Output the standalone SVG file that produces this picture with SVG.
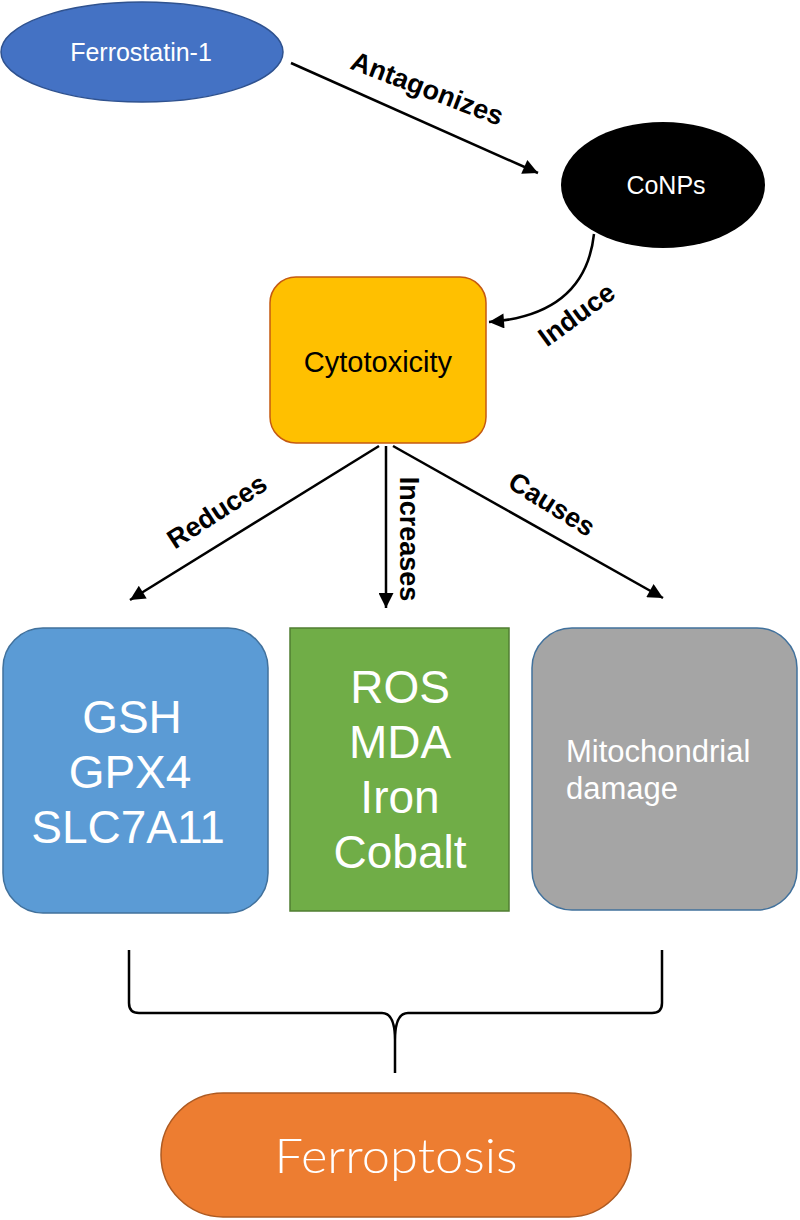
<svg xmlns="http://www.w3.org/2000/svg" width="800" height="1220" viewBox="0 0 800 1220">
<defs>
<marker id="arr" viewBox="0 0 10 10" refX="10" refY="5" markerWidth="7" markerHeight="6" orient="auto" markerUnits="strokeWidth">
<path d="M0,0 L10,5 L0,10 z" fill="#000"/>
</marker>
<style>
.lbl{font-family:"Liberation Sans",Arial,sans-serif;font-weight:bold;font-size:27px;fill:#000;text-anchor:middle}
.conn{stroke:#000;stroke-width:2.5;fill:none}
.big{font-family:"Liberation Sans",Arial,sans-serif;font-size:46px;fill:#fff;text-anchor:middle}
.sm{font-family:"Liberation Sans",Arial,sans-serif;fill:#fff;text-anchor:middle}
</style>
</defs>
<rect width="800" height="1220" fill="#fff"/>

<g id="connectors">
<line class="conn" x1="291" y1="63" x2="538" y2="173" marker-end="url(#arr)"/>
<path class="conn" d="M594,234 Q585,315 489,322" marker-end="url(#arr)"/>
<line class="conn" x1="379" y1="446" x2="130" y2="600" marker-end="url(#arr)"/>
<line class="conn" x1="386" y1="446" x2="386" y2="608" marker-end="url(#arr)"/>
<line class="conn" x1="393" y1="446" x2="663" y2="598" marker-end="url(#arr)"/>
<path d="M129,950 L129,1003 Q129,1013 139,1013 L382,1013 Q395,1013 395,1040 Q395,1013 408,1013 L652,1013 Q662,1013 662,1003 L662,950 M395,1040 L395,1073" fill="none" stroke="#000" stroke-width="2.5"/>
<text class="lbl" transform="translate(424,97) rotate(21)">Antagonizes</text>
<text class="lbl" transform="translate(582,322) rotate(-36)">Induce</text>
<text class="lbl" transform="translate(222,519) rotate(-33)">Reduces</text>
<text class="lbl" transform="translate(400,539) rotate(90)">Increases</text>
<text class="lbl" transform="translate(547,512) rotate(32)">Causes</text>
</g>

<g id="ferrostatin">
<ellipse cx="142" cy="52" rx="141" ry="50" fill="#4472C4" stroke="#2F528F" stroke-width="1.5"/>
<text class="sm" x="141" y="61" font-size="25">Ferrostatin-1</text>
</g>

<g id="conps">
<ellipse cx="663" cy="185" rx="102" ry="63" fill="#000"/>
<text class="sm" x="666" y="194" font-size="25">CoNPs</text>
</g>

<g id="cytotoxicity">
<rect x="270" y="277" width="216" height="166" rx="26" fill="#FFC000" stroke="#C55A11" stroke-width="1.5"/>
<text x="378" y="372" font-family="Liberation Sans,Arial,sans-serif" font-size="29" fill="#000" text-anchor="middle">Cytotoxicity</text>
</g>

<g id="gsh">
<rect x="3" y="628" width="265" height="285" rx="40" fill="#5B9BD5" stroke="#41719C" stroke-width="1.5"/>
<text class="big" x="132" y="733">GSH</text>
<text class="big" x="130" y="788">GPX4</text>
<text class="big" x="128" y="843">SLC7A11</text>
</g>

<g id="ros">
<rect x="290" y="628" width="219" height="283" fill="#70AD47" stroke="#507E32" stroke-width="1.5"/>
<text class="big" x="400" y="703">ROS</text>
<text class="big" x="400" y="758">MDA</text>
<text class="big" x="400" y="813">Iron</text>
<text class="big" x="400" y="868">Cobalt</text>
</g>

<g id="mito">
<rect x="532" y="628" width="265" height="282" rx="40" fill="#A5A5A5" stroke="#41719C" stroke-width="1.5"/>
<text x="566" y="762" font-family="Liberation Sans,Arial,sans-serif" font-size="31" fill="#fff">Mitochondrial</text>
<text x="566" y="799" font-family="Liberation Sans,Arial,sans-serif" font-size="31" fill="#fff">damage</text>
</g>

<g id="ferroptosis">
<rect x="161" y="1093" width="470" height="124" rx="62" fill="#ED7D31" stroke="#AE5A21" stroke-width="1.5"/>
<text x="396" y="1173" font-family="Lato,'Open Sans',sans-serif" font-weight="300" font-size="48" fill="#fff" text-anchor="middle" textLength="243" lengthAdjust="spacingAndGlyphs">Ferroptosis</text>
</g>
</svg>
